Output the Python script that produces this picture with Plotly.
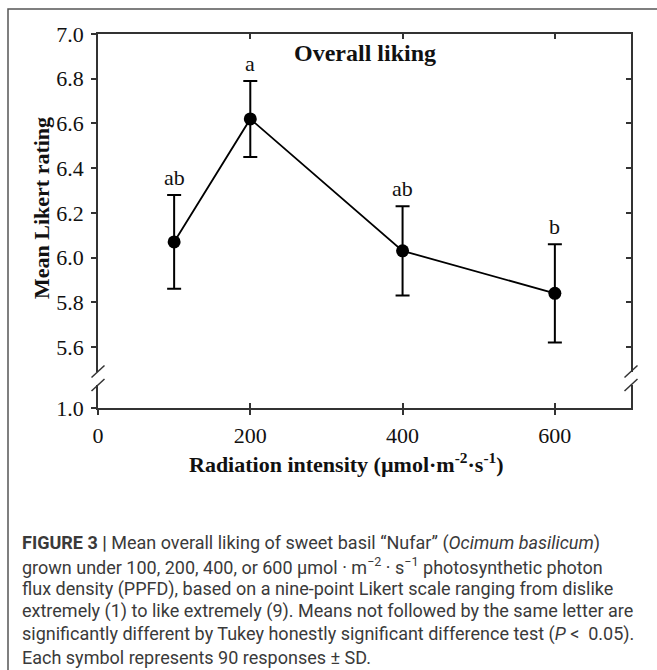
import plotly.graph_objects as go

# ---- data ----
ppfd = [100, 200, 400, 600]
mean_liking = [6.07, 6.62, 6.03, 5.84]
sd_liking = [0.21, 0.17, 0.20, 0.22]
letters = ["ab", "a", "ab", "b"]
x_ticks = [0, 200, 400, 600]
y_ticks_upper = [5.6, 5.8, 6.0, 6.2, 6.4, 6.6, 6.8, 7.0]
y_ticks_lower = [1.0]

caption_lines = [
    "<b>FIGURE 3 |</b> Mean overall liking of sweet basil \u201cNufar\u201d (<i>Ocimum basilicum</i>)",
    "grown under 100, 200, 400, or 600 \u00b5mol \u00b7 m<sup>\u22122</sup> \u00b7 s<sup>\u22121</sup> photosynthetic photon",
    "flux density (PPFD), based on a nine-point Likert scale ranging from dislike",
    "extremely (1) to like extremely (9). Means not followed by the same letter are",
    "significantly different by Tukey honestly significant difference test (<i>P</i> <  0.05).",
    "Each symbol represents 90 responses \u00b1 SD.",
]

# ---- layout geometry (pixels) ----
W, H = 657, 670
L, R, T, B = 98, 631, 34, 408


def pxx(p):
    return (p - L) / (R - L)


def pxy(p):
    return (B - p) / (B - T)


SERIF = "Liberation Serif, Times New Roman, serif"
SANS = "Roboto, Arial, sans-serif"

fig = go.Figure()

fig.add_trace(go.Scatter(
    x=ppfd, y=mean_liking, mode="lines+markers",
    line=dict(color="black", width=1.8),
    marker=dict(color="black", size=13),
    error_y=dict(type="data", array=sd_liking, visible=True,
                 color="black", thickness=2, width=7),
    xaxis="x", yaxis="y", showlegend=False, hoverinfo="skip",
))
# invisible helper traces so overlay axes render
for xa, ya in [("x", "y2"), ("x2", "y2"), ("x3", "y"), ("x", "y3"), ("x", "y4")]:
    fig.add_trace(go.Scatter(x=[None], y=[None], xaxis=xa, yaxis=ya,
                             showlegend=False, hoverinfo="skip"))

axis_common = dict(showgrid=False, zeroline=False, linecolor="#333",
                   linewidth=1.5, tickcolor="#333", tickwidth=1.5)
tick_font = dict(family=SERIF, size=22, color="#111")

y_low_top = 5.6 - (372 - 347) / 223.6
y_low2_top = 1.0 + (408 - 385) / 223.6

fig.update_layout(
    width=W, height=H,
    margin=dict(l=L, r=W - R, t=T, b=H - B, pad=0),
    paper_bgcolor="white", plot_bgcolor="white",
    xaxis=dict(domain=[0, 1], range=[0, 700], anchor="y2", side="bottom",
               tickvals=x_ticks, ticktext=[str(v) for v in x_ticks],
               ticks="outside", ticklen=5, showline=True, ticklabelstandoff=2,
               tickfont=tick_font, **axis_common),
    xaxis2=dict(overlaying="x", range=[0, 700], anchor="y2", side="bottom",
                tickvals=x_ticks, ticks="inside", ticklen=5,
                showticklabels=False, showline=False, **axis_common),
    xaxis3=dict(overlaying="x", range=[0, 700], anchor="y", side="top",
                tickvals=x_ticks[1:], ticks="inside", ticklen=5,
                showticklabels=False, showline=True, **axis_common),
    yaxis=dict(domain=[pxy(372), 1], range=[y_low_top, 7.0], anchor="x",
               tickvals=y_ticks_upper,
               ticktext=["%.1f" % v for v in y_ticks_upper],
               ticks="outside", ticklen=5, showline=True, ticklabelstandoff=3,
               tickfont=tick_font, **axis_common),
    yaxis2=dict(domain=[0, pxy(385)], range=[1.0, y_low2_top], anchor="x",
                tickvals=y_ticks_lower,
                ticktext=["%.1f" % v for v in y_ticks_lower],
                ticks="outside", ticklen=5, showline=True, ticklabelstandoff=3,
                tickfont=tick_font, **axis_common),
    yaxis3=dict(overlaying="y", range=[y_low_top, 7.0], anchor="x", side="right",
                tickvals=y_ticks_upper, ticks="inside", ticklen=5,
                showticklabels=False, showline=True, **axis_common),
    yaxis4=dict(overlaying="y2", range=[1.0, y_low2_top], anchor="x", side="right",
                tickvals=[], showticklabels=False, showline=True, **axis_common),
)

# significance letters
for xv, m, s, lt in zip(ppfd, mean_liking, sd_liking, letters):
    fig.add_annotation(x=xv, y=m + s, xref="x", yref="y", text=lt,
                       showarrow=False, yanchor="bottom", xanchor="center", yshift=3,
                       font=dict(family=SERIF, size=22, color="#111"))

# panel title
fig.add_annotation(x=pxx(365), y=pxy(53), xref="paper", yref="paper",
                   text="<b>Overall liking</b>", showarrow=False,
                   xanchor="center", yanchor="middle",
                   font=dict(family=SERIF, size=24, color="#111"))
# axis titles
fig.add_annotation(x=pxx(41), y=pxy(208), xref="paper", yref="paper",
                   text="<b>Mean Likert rating</b>", showarrow=False, textangle=-90,
                   xanchor="center", yanchor="middle",
                   font=dict(family=SERIF, size=22, color="#111"))
fig.add_annotation(x=pxx(346), y=pxy(463), xref="paper", yref="paper",
                   text="<b>Radiation intensity (\u00b5mol\u00b7m<sup>-2</sup>\u00b7s<sup>-1</sup>)</b>",
                   showarrow=False, xanchor="center", yanchor="middle",
                   font=dict(family=SERIF, size=22, color="#111"))

# caption
for i, line in enumerate(caption_lines):
    fig.add_annotation(x=pxx(20), y=pxy(543 + i * 22.8), xref="paper", yref="paper",
                       text=line, showarrow=False, xanchor="left", yanchor="middle",
                       align="left",
                       font=dict(family=SANS, size=18, color="#3a3a3a"))

# outer frame
fig.add_shape(type="rect", xref="paper", yref="paper",
              x0=pxx(8), x1=pxx(700), y0=pxy(720), y1=pxy(9),
              line=dict(color="#555", width=1.5), layer="below")

# axis break marks
for xc in (L, R):
    for yc in (371.5, 385):
        fig.add_shape(type="line", xref="paper", yref="paper",
                      x0=pxx(xc - 6.5), y0=pxy(yc + 6), x1=pxx(xc + 6.5), y1=pxy(yc - 6),
                      line=dict(color="#333", width=1.5))

fig.write_html("out.html")
